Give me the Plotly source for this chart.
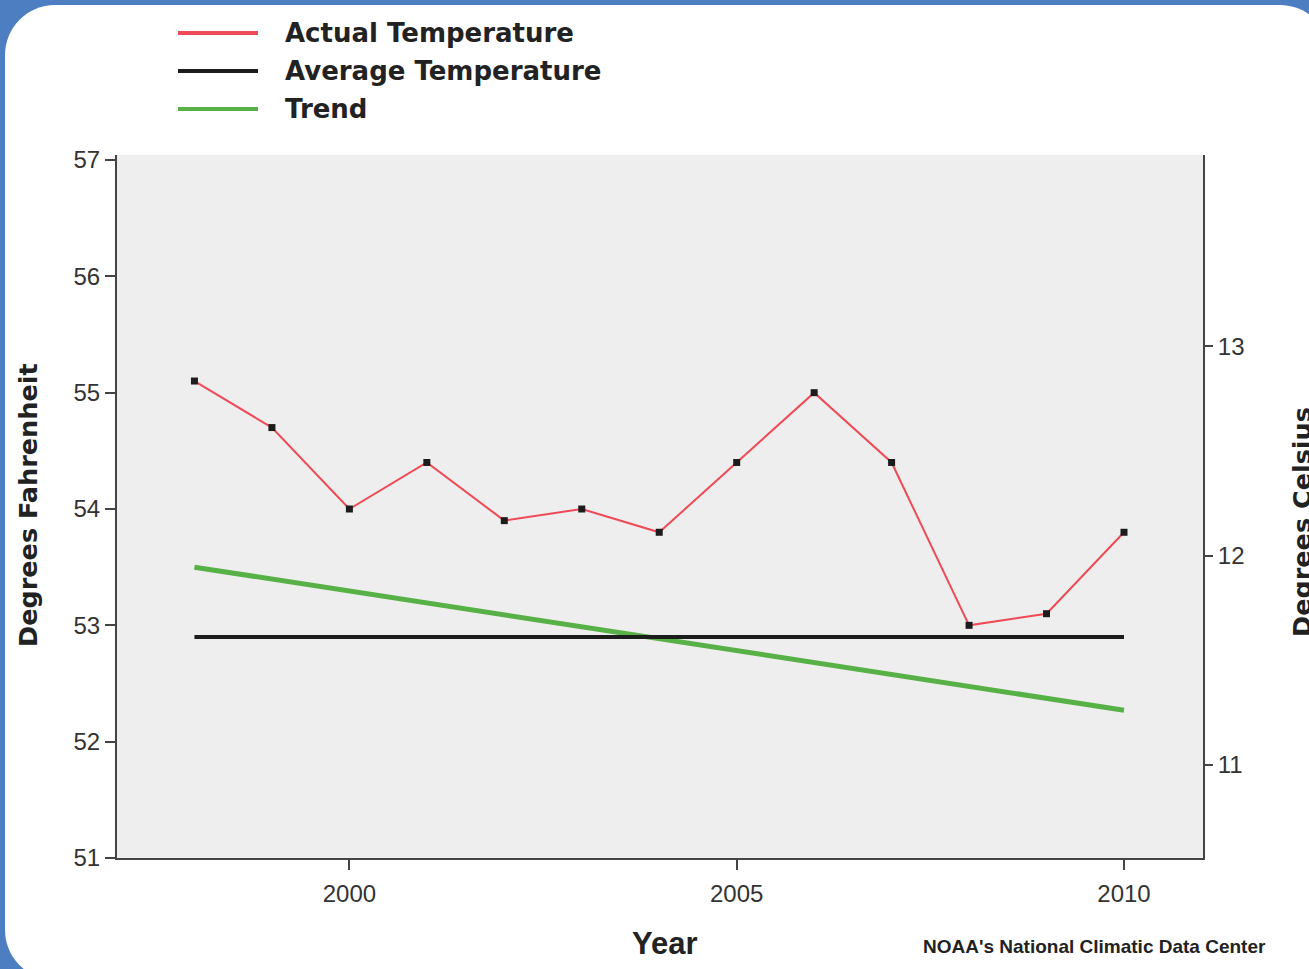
import plotly.graph_objects as go

# ---- data ----
years = [1998, 1999, 2000, 2001, 2002, 2003, 2004, 2005, 2006, 2007, 2008, 2009, 2010]
actual_f = [55.1, 54.7, 54.0, 54.4, 53.9, 54.0, 53.8, 54.4, 55.0, 54.4, 53.0, 53.1, 53.8]
avg_years = [1998, 2010]
avg_f = [52.9, 52.9]
trend_years = [1998, 2010]
trend_f = [53.5, 52.27]

legend_names = ["Actual Temperature", "Average Temperature", "Trend"]
f_ticks = [51, 52, 53, 54, 55, 56, 57]
c_ticks = [11, 12, 13]
x_ticks = [2000, 2005, 2010]

RED = "#ef4a57"
BLACK = "#1c1c1c"
GREEN = "#58b146"
BLUE = "#4d7ec1"
FONT = "Liberation Sans"
WIDE = "DejaVu Sans"

# ---- geometry (pixels) ----
WIDTH, HEIGHT = 1309, 969
L, R, T, B = 117, 1203, 155, 858
PW, PH = R - L, B - T

def px(x):
    return (x - L) / PW

def py(y):
    return (B - y) / PH

y_range = [51, 57.043]
c_range = [(v - 32) / 1.8 for v in y_range]
x_range = [1997.0, 2011.02]

fig = go.Figure()
fig.add_trace(go.Scatter(x=trend_years, y=trend_f, mode="lines",
                         line=dict(color=GREEN, width=5), name=legend_names[2]))
fig.add_trace(go.Scatter(x=avg_years, y=avg_f, mode="lines",
                         line=dict(color=BLACK, width=4), name=legend_names[1]))
fig.add_trace(go.Scatter(x=years, y=actual_f, mode="lines+markers",
                         line=dict(color=RED, width=2),
                         marker=dict(color=BLACK, size=7, symbol="square"),
                         name=legend_names[0]))
# invisible trace for the Celsius axis
fig.add_trace(go.Scatter(x=[x_range[0]], y=[c_range[0]], yaxis="y2", mode="markers",
                         marker=dict(opacity=0), hoverinfo="skip", showlegend=False))

# ---- frame: blue page, white rounded card, grey plot bg ----
def rounded_rect(x0, y0, x1, y1, r):
    k = 0.5523 * r
    def P(x, y):
        return f"{px(x):.5f},{py(y):.5f}"
    return (f"M {P(x0 + r, y0)} L {P(x1 - r, y0)} "
            f"C {P(x1 - r + k, y0)} {P(x1, y0 + r - k)} {P(x1, y0 + r)} "
            f"L {P(x1, y1 - r)} "
            f"C {P(x1, y1 - r + k)} {P(x1 - r + k, y1)} {P(x1 - r, y1)} "
            f"L {P(x0 + r, y1)} "
            f"C {P(x0 + r - k, y1)} {P(x0, y1 - r + k)} {P(x0, y1 - r)} "
            f"L {P(x0, y0 + r)} "
            f"C {P(x0, y0 + r - k)} {P(x0 + r - k, y0)} {P(x0 + r, y0)} Z")

shapes = [
    dict(type="path", xref="paper", yref="paper", layer="below",
         path=rounded_rect(5, 5, 1330, 980, 50),
         fillcolor="white", line=dict(width=0)),
    dict(type="rect", xref="paper", yref="paper", layer="below",
         x0=0, x1=1, y0=0, y1=1, fillcolor="#efeeee", line=dict(width=0)),
]

# ---- manual legend ----
legend_colors = [RED, BLACK, GREEN]
legend_rows = [33, 71, 109]
annotations = []
for name, col, yy in zip(legend_names, legend_colors, legend_rows):
    shapes.append(dict(type="line", xref="paper", yref="paper",
                       x0=px(178), x1=px(258), y0=py(yy), y1=py(yy),
                       line=dict(color=col, width=4)))
    annotations.append(dict(xref="paper", yref="paper", x=px(283), y=py(yy),
                            text=f"<b>{name}</b>", showarrow=False,
                            xanchor="left", yanchor="middle",
                            font=dict(family=WIDE, size=26, color="#222")))

# ---- titles ----
annotations += [
    dict(xref="paper", yref="paper", x=px(28), y=py(505), text="<b>Degrees Fahrenheit</b>",
         textangle=-90, showarrow=False, xanchor="center", yanchor="middle",
         font=dict(family=WIDE, size=25.5, color="#222")),
    dict(xref="paper", yref="paper", x=px(1302), y=py(522), text="<b>Degrees Celsius</b>",
         textangle=-90, showarrow=False, xanchor="center", yanchor="middle",
         font=dict(family=WIDE, size=25.5, color="#222")),
    dict(xref="paper", yref="paper", x=px(665), y=py(943), text="<b>Year</b>",
         showarrow=False, xanchor="center", yanchor="middle",
         font=dict(family=FONT, size=31, color="#222")),
    dict(xref="paper", yref="paper", x=px(1094), y=py(946),
         text="<b>NOAA's National Climatic Data Center</b>",
         showarrow=False, xanchor="center", yanchor="middle",
         font=dict(family=FONT, size=19, color="#222")),
]

axis_font = dict(family=FONT, size=24, color="#333")
fig.update_layout(
    width=WIDTH, height=HEIGHT,
    margin=dict(l=L, r=WIDTH - R, t=T, b=HEIGHT - B, pad=0),
    paper_bgcolor=BLUE, plot_bgcolor="rgba(0,0,0,0)",
    showlegend=False,
    shapes=shapes, annotations=annotations,
    xaxis=dict(range=x_range, tickvals=x_ticks, ticks="outside", ticklen=10,
               tickwidth=1.5, tickcolor="#444", showline=True, linecolor="#444",
               linewidth=2, showgrid=False, zeroline=False, tickfont=axis_font,
               ticklabelstandoff=3),
    yaxis=dict(range=y_range, tickvals=f_ticks, ticks="outside", ticklen=10,
               tickwidth=1.5, tickcolor="#444", showline=True, linecolor="#444",
               linewidth=2, showgrid=False, zeroline=False, tickfont=axis_font),
    yaxis2=dict(range=c_range, tickvals=c_ticks, overlaying="y", side="right",
                anchor="x", ticks="outside", ticklen=8, tickwidth=1.5,
                tickcolor="#444", showline=True, linecolor="#444", linewidth=2,
                showgrid=False, zeroline=False, tickfont=axis_font),
)

fig.write_html(
    "out.html",
    config={"displayModeBar": False},
    post_script=("document.body.style.margin='0';"
                 "document.documentElement.style.overflow='hidden';"
                 "document.body.style.background='" + BLUE + "';"),
)
